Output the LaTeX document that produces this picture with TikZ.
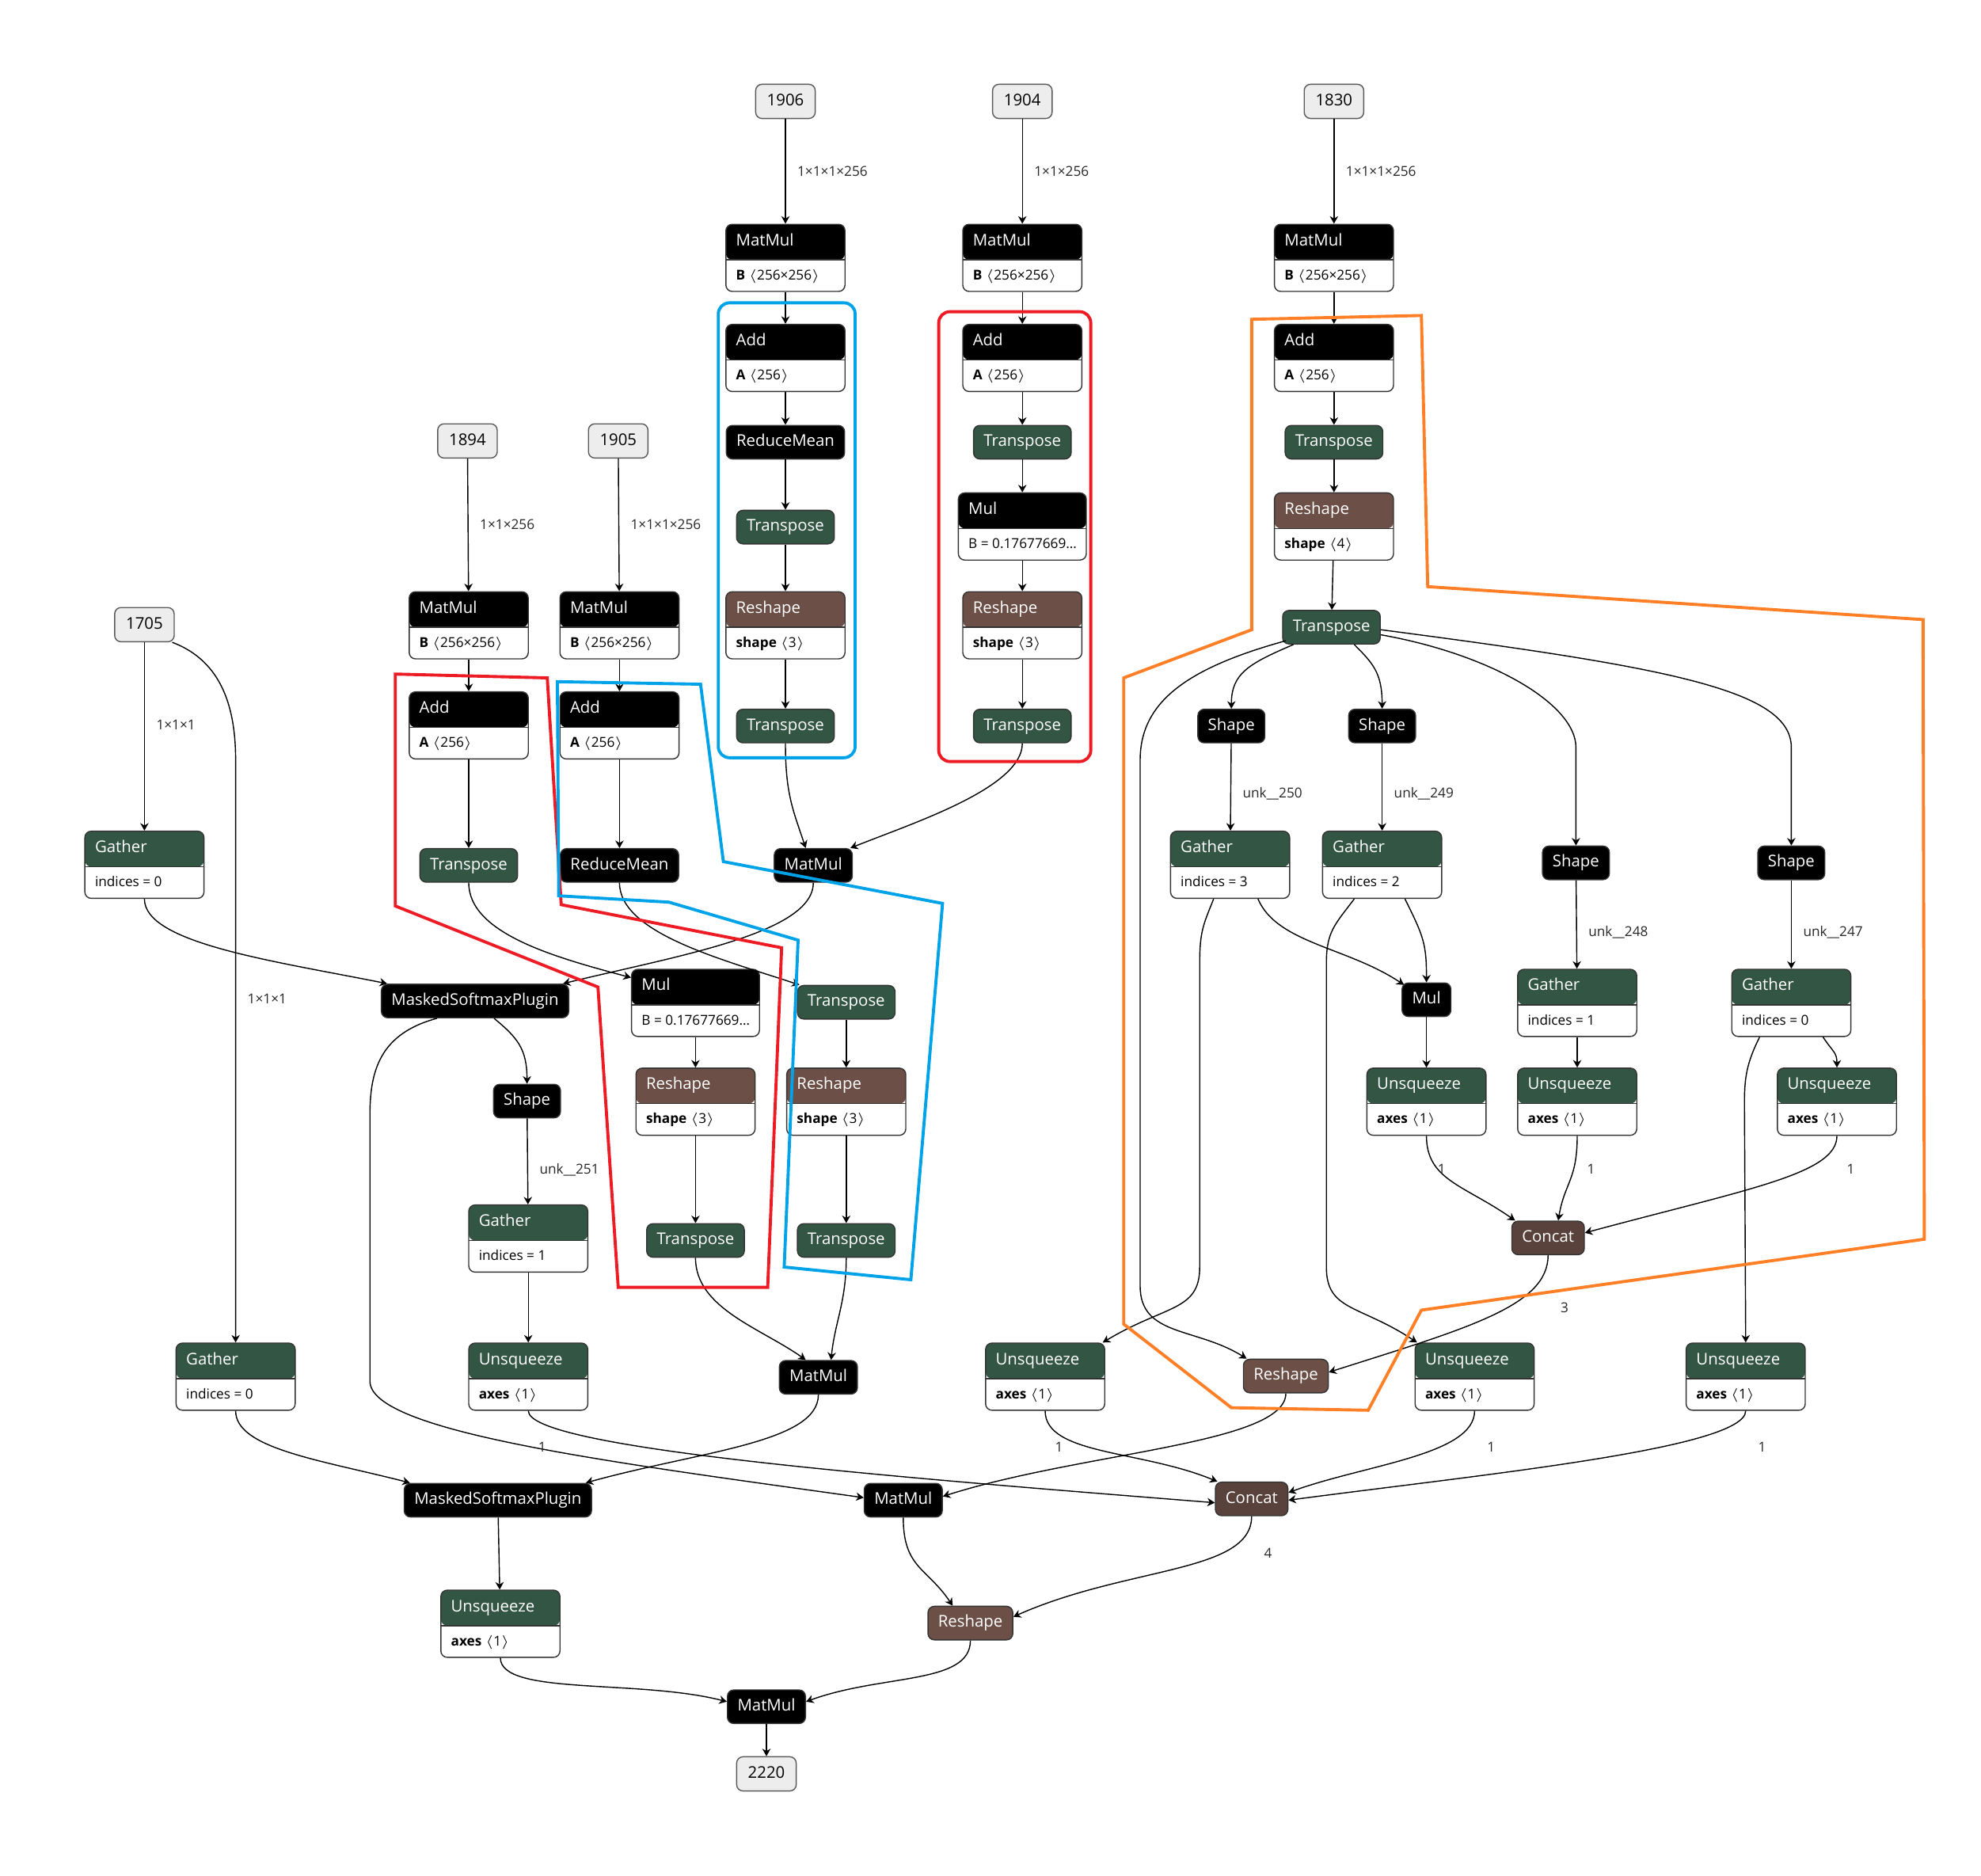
\documentclass[tikz,border=0pt]{standalone}
\usepackage{fontspec}
\setmainfont{Open Sans}
\usetikzlibrary{arrows.meta}

\def\dpx{0.16mm}
\newcommand{\opfont}{\fontsize{5.8}{7}\selectfont}
\newcommand{\lblfont}{\fontsize{4.9}{6}\selectfont}

\definecolor{tfgreen}{RGB}{51,85,68}
\definecolor{shpbrown}{RGB}{108,79,71}
\definecolor{tnsbrown}{RGB}{89,66,59}
\definecolor{hlblue}{RGB}{0,162,232}
\definecolor{hlred}{RGB}{237,28,36}
\definecolor{hlorange}{RGB}{255,127,39}

\tikzset{
  op/.style={draw=black!80, fill=black, text=white, rounded corners=0.8mm,
    minimum height=26.5*\dpx, inner xsep=8*\dpx, inner ysep=0pt,
    text height=4.3pt, text depth=1.3pt, font=\opfont},
  tf/.style={op, fill=tfgreen},
  shp/.style={op, fill=shpbrown},
  tns/.style={op, fill=tnsbrown},
  io/.style={draw=black!65, fill=black!7, rounded corners=0.8mm,
    minimum height=27*\dpx, minimum width=47*\dpx, inner sep=0pt,
    text height=4.3pt, text depth=1.3pt, font=\opfont},
  attrbox/.style={draw=black!80, fill=white, rounded corners=0.8mm,
    minimum height=53*\dpx, inner sep=0pt},
  header/.style={path picture={
    \fill[#1] (path picture bounding box.north west) rectangle ([yshift=-28*\dpx]path picture bounding box.north east);
    \draw[black!80] ([yshift=-28*\dpx]path picture bounding box.north west) -- ([yshift=-28*\dpx]path picture bounding box.north east);}},
  title/.style={text=white, font=\opfont, inner sep=0pt, anchor=west,
    text height=4.3pt, text depth=1.3pt},
  attr/.style={font=\lblfont, inner sep=0pt, anchor=west,
    text height=3.6pt, text depth=1pt},
  lbl/.style={font=\lblfont, text=black!85, inner sep=0pt, anchor=west, xshift=9*\dpx},
  num/.style={font=\lblfont, text=black!85, inner sep=0pt},
  hl/.style={line width=1.1pt},
}

% node with a coloured header and one attribute line
\newcommand{\attrnode}[6]{%
  \node[attrbox, header=#4, minimum width=#3*\dpx] (#1) at (#2) {};
  \node[title] (#1-t) at ([xshift=8*\dpx, yshift=-14*\dpx]#1.north west) {#5};
  \node[attr] (#1-a) at ([xshift=8*\dpx, yshift=12.5*\dpx]#1.south west) {#6};
}

\begin{document}
\begin{tikzpicture}[x=\dpx, y=-\dpx, >={Stealth[length=0.95mm,width=1.05mm,inset=0.3mm]}]
\useasboundingbox (0,0) rectangle (1563.75,1480);

% inputs and output
\node[io] (in1906) at (620,80) {1906};
\node[io] (in1904) at (807,80) {1904};
\node[io] (in1830) at (1053,80) {1830};
\node[io] (in1894) at (369,348) {1894};
\node[io] (in1905) at (488,348) {1905};
\node[io] (in1705) at (114,493) {1705};
\node[io] (out2220) at (605,1400) {2220};

% branch of 1906
\attrnode{mm1}{620,203.5}{94}{black}{MatMul}{\textbf{B} $\langle$256×256$\rangle$}
\attrnode{add1}{620,282.5}{94}{black}{Add}{\textbf{A} $\langle$256$\rangle$}
\node[op] (rm1) at (620,349) {ReduceMean};
\node[tf] (tr1) at (620,416) {Transpose};
\attrnode{rs1}{620,493.5}{94}{shpbrown}{Reshape}{\textbf{shape} $\langle$3$\rangle$}
\node[tf] (tr2) at (620,573) {Transpose};

% branch of 1904
\attrnode{mm2}{807,203.5}{94}{black}{MatMul}{\textbf{B} $\langle$256×256$\rangle$}
\attrnode{add2}{807,282.5}{94}{black}{Add}{\textbf{A} $\langle$256$\rangle$}
\node[tf] (tr3) at (807,349) {Transpose};
\attrnode{mul2}{807,415.5}{101}{black}{Mul}{B = 0.17677669…}
\attrnode{rs2}{807,493.5}{94}{shpbrown}{Reshape}{\textbf{shape} $\langle$3$\rangle$}
\node[tf] (tr4) at (807,573) {Transpose};

% branch of 1830
\attrnode{mm3}{1053,203.5}{94}{black}{MatMul}{\textbf{B} $\langle$256×256$\rangle$}
\attrnode{add3}{1053,282.5}{94}{black}{Add}{\textbf{A} $\langle$256$\rangle$}
\node[tf] (tr5) at (1053,349) {Transpose};
\attrnode{rs3}{1053,415.5}{94}{shpbrown}{Reshape}{\textbf{shape} $\langle$4$\rangle$}
\node[tf] (tr6) at (1051,495) {Transpose};

% branches of 1894 and 1905
\attrnode{mm4}{370,493.5}{94}{black}{MatMul}{\textbf{B} $\langle$256×256$\rangle$}
\attrnode{mm5}{489,493.5}{94}{black}{MatMul}{\textbf{B} $\langle$256×256$\rangle$}
\attrnode{add4}{370,572.5}{94}{black}{Add}{\textbf{A} $\langle$256$\rangle$}
\attrnode{add5}{489,572.5}{94}{black}{Add}{\textbf{A} $\langle$256$\rangle$}
\node[tf] (tr7) at (370,683) {Transpose};
\node[op] (rm2) at (489,683) {ReduceMean};
\node[op] (mmA) at (642,683) {MatMul};

% middle part
\attrnode{gat1}{114,682.5}{94}{tfgreen}{Gather}{indices = 0}
\node[op] (msp1) at (375,790) {MaskedSoftmaxPlugin};
\attrnode{mul1}{549,791.5}{101}{black}{Mul}{B = 0.17677669…}
\node[tf] (tr8) at (668,791) {Transpose};
\node[op] (sh1) at (416,869) {Shape};
\attrnode{rs4}{549,869.5}{94}{shpbrown}{Reshape}{\textbf{shape} $\langle$3$\rangle$}
\attrnode{rs5}{668,869.5}{94}{shpbrown}{Reshape}{\textbf{shape} $\langle$3$\rangle$}
\attrnode{gat2}{417,977.5}{94}{tfgreen}{Gather}{indices = 1}
\node[tf] (tr9) at (549,979) {Transpose};
\node[tf] (tr10) at (668,979) {Transpose};
\attrnode{gat3}{186,1086.5}{94}{tfgreen}{Gather}{indices = 0}
\attrnode{unsq1}{417,1086.5}{94}{tfgreen}{Unsqueeze}{\textbf{axes} $\langle$1$\rangle$}
\node[op] (mmB) at (646,1087) {MatMul};
\node[op] (msp2) at (393,1184) {MaskedSoftmaxPlugin};
\node[op] (mmC) at (713,1184) {MatMul};
\node[tns] (cc1) at (988,1183) {Concat};
\attrnode{unsq2}{395,1281.5}{94}{tfgreen}{Unsqueeze}{\textbf{axes} $\langle$1$\rangle$}
\node[shp] (rs6) at (766,1281) {Reshape};
\node[op] (mmD) at (605,1347) {MatMul};

% shape part on the right
\node[op] (sh2) at (972,573) {Shape};
\node[op] (sh3) at (1091,573) {Shape};
\attrnode{gat4}{971,682.5}{94}{tfgreen}{Gather}{indices = 3}
\attrnode{gat5}{1091,682.5}{94}{tfgreen}{Gather}{indices = 2}
\node[op] (sh4) at (1244,681) {Shape};
\node[op] (sh5) at (1414,681) {Shape};
\node[op] (mul3) at (1126,789) {Mul};
\attrnode{gat6}{1245,791.5}{94}{tfgreen}{Gather}{indices = 1}
\attrnode{gat7}{1414,791.5}{94}{tfgreen}{Gather}{indices = 0}
\attrnode{unsq3}{1126,869.5}{94}{tfgreen}{Unsqueeze}{\textbf{axes} $\langle$1$\rangle$}
\attrnode{unsq4}{1245,869.5}{94}{tfgreen}{Unsqueeze}{\textbf{axes} $\langle$1$\rangle$}
\attrnode{unsq5}{1450,869.5}{94}{tfgreen}{Unsqueeze}{\textbf{axes} $\langle$1$\rangle$}
\node[tns] (cc2) at (1222,977) {Concat};
\attrnode{unsq6}{825,1086.5}{94}{tfgreen}{Unsqueeze}{\textbf{axes} $\langle$1$\rangle$}
\node[shp] (rs7) at (1015,1086) {Reshape};
\attrnode{unsq7}{1164,1086.5}{94}{tfgreen}{Unsqueeze}{\textbf{axes} $\langle$1$\rangle$}
\attrnode{unsq8}{1378,1086.5}{94}{tfgreen}{Unsqueeze}{\textbf{axes} $\langle$1$\rangle$}

% bend points of the long connectors
\coordinate (bend1) at (292,880);
\coordinate (bend2) at (292,1090);
\coordinate (bend3) at (900,600);
\coordinate (bend4) at (900,1015);
\coordinate (bend5) at (947,760);
\coordinate (bend6) at (947,1000);
\coordinate (bend7) at (1047,760);
\coordinate (bend8) at (1047,1000);
\coordinate (bend9) at (1377,870);
\coordinate (bend10) at (186,600);
\coordinate (bend11) at (1244,590);
\coordinate (bend12) at (1414,590);

% straight connectors
\path[->] (in1906) edge node[lbl] {1×1×1×256} (mm1)
          (mm1) edge (add1)
          (add1) edge (rm1)
          (rm1) edge (tr1)
          (tr1) edge (rs1)
          (rs1) edge (tr2)
          (in1904) edge node[lbl] {1×1×256} (mm2)
          (mm2) edge (add2)
          (add2) edge (tr3)
          (tr3) edge (mul2)
          (mul2) edge (rs2)
          (rs2) edge (tr4)
          (in1830) edge node[lbl] {1×1×1×256} (mm3)
          (mm3) edge (add3)
          (add3) edge (tr5)
          (tr5) edge (rs3)
          (rs3) edge (tr6)
          (in1894) edge node[lbl] {1×1×256} (mm4)
          (mm4) edge (add4)
          (add4) edge (tr7)
          (in1905) edge node[lbl] {1×1×1×256} (mm5)
          (mm5) edge (add5)
          (add5) edge (rm2)
          (in1705) edge node[lbl, pos=0.44] {1×1×1} (gat1)
          (mul1) edge (rs4)
          (rs4) edge (tr9)
          (tr8) edge (rs5)
          (rs5) edge (tr10)
          (sh1) edge node[lbl, pos=0.6] {unk\_\_251} (gat2)
          (gat2) edge (unsq1)
          (msp2) edge (unsq2)
          (mmD) edge (out2220)
          (sh2) edge node[lbl, pos=0.58] {unk\_\_250} (gat4)
          (sh3) edge node[lbl, pos=0.58] {unk\_\_249} (gat5)
          (sh4) edge node[lbl, pos=0.59] {unk\_\_248} (gat6)
          (sh5) edge node[lbl, pos=0.59] {unk\_\_247} (gat7)
          (mul3) edge (unsq3)
          (gat6) edge (unsq4);

% curved connectors
\draw[->] (tr2.south) .. controls +(0,40) and +(-10,-30) .. ([xshift=-6*\dpx]mmA.north);
\draw[->] (tr4.south) .. controls +(0,35) and +(50,-20) .. ([xshift=-2*\dpx]mmA.north east);
\draw[->] (gat1.south) .. controls +(0,35) and +(-90,-18) .. ([xshift=5*\dpx]msp1.north west);
\draw[->] (mmA.south) .. controls +(0,40) and +(90,-22) .. ([xshift=-5*\dpx]msp1.north east);
\draw[->] (tr7.south) .. controls +(0,40) and +(-60,-16) .. ([yshift=-7*\dpx]mul1.north west);
\draw[->] (rm2.south) .. controls +(0,40) and +(-60,-20) .. ([xshift=2*\dpx]tr8.north west);
\draw[->] ([xshift=15*\dpx]msp1.south) .. controls +(18,15) and +(0,-28) .. (sh1.north);
\draw[->] ([xshift=-30*\dpx]msp1.south) .. controls +(-45,12) and +(0,-35) .. (bend1)
          -- (bend2) .. controls +(0,40) and +(-200,-28) .. ([yshift=2*\dpx]mmC.west);
\draw[->] ([xshift=-2*\dpx]in1705.south east) .. controls +(40,15) and +(0,-40) .. (bend10)
          -- node[lbl, pos=0.41] {1×1×1} (gat3.north);
\draw[->] (tr9.south) .. controls +(0,40) and +(-35,-25) .. ([xshift=-10*\dpx]mmB.north);
\draw[->] (tr10.south) .. controls +(0,35) and +(3,-30) .. ([xshift=10*\dpx]mmB.north);
\draw[->] (mmB.south) .. controls +(0,38) and +(90,-25) .. ([xshift=-5*\dpx]msp2.north east);
\draw[->] (gat3.south) .. controls +(0,30) and +(-70,-18) .. ([xshift=5*\dpx]msp2.north west);
\draw[->] (unsq1.south) .. controls +(0,30) and +(-250,-20) .. ([yshift=-3*\dpx]cc1.west);
\draw[->] (unsq2.south) .. controls +(0,30) and +(-70,-18) .. ([yshift=4*\dpx]mmD.west);
\draw[->] (mmC.south) .. controls +(0,40) and +(-20,-30) .. ([xshift=-14*\dpx]rs6.north);
\draw[->] (cc1.south) .. controls +(0,45) and +(90,-40) .. ([yshift=5*\dpx]rs6.east);
\draw[->] (rs6.south) .. controls +(0,35) and +(60,-22) .. ([yshift=4*\dpx]mmD.east);
\draw[->] (rs7.south) .. controls +(0,40) and +(110,-35) .. ([yshift=3*\dpx]mmC.east);
\draw[->] (unsq6.south) .. controls +(0,35) and +(-60,-25) .. ([xshift=2*\dpx]cc1.north west);
\draw[->] (unsq7.south) .. controls +(0,35) and +(60,-22) .. ([yshift=5*\dpx]cc1.east);
\draw[->] (unsq8.south) .. controls +(0,30) and +(150,-20) .. ([yshift=-1*\dpx]cc1.east);
\draw[->] ([xshift=-30*\dpx]tr6.south) .. controls +(-35,15) and +(0,-28) .. (sh2.north);
\draw[->] ([xshift=18*\dpx]tr6.south) .. controls +(15,15) and +(0,-28) .. (sh3.north);
\draw[->] ([yshift=-6*\dpx]tr6.east) .. controls +(85,15) and +(0,-35) .. (bend11) -- (sh4.north);
\draw[->] ([yshift=-2*\dpx]tr6.east) .. controls +(230,30) and +(0,-45) .. (bend12) -- (sh5.north);
\draw[->] ([xshift=3*\dpx, yshift=3*\dpx]tr6.south west) .. controls +(-80,22) and +(0,-45) .. (bend3)
          -- (bend4) .. controls +(0,40) and +(-40,-25) .. ([xshift=3*\dpx]rs7.north west);
\draw[->] ([xshift=22*\dpx]gat4.south) .. controls +(15,35) and +(-45,-30) .. ([xshift=2*\dpx, yshift=-2*\dpx]mul3.north west);
\draw[->] ([xshift=-13*\dpx]gat4.south) .. controls +(-8,20) and +(0,-25) .. (bend5)
          -- (bend6) .. controls +(0,35) and +(50,-30) .. ([xshift=-2*\dpx]unsq6.north east);
\draw[->] ([xshift=18*\dpx]gat5.south) .. controls +(15,30) and +(0,-30) .. (mul3.north);
\draw[->] ([xshift=-22*\dpx]gat5.south) .. controls +(-15,20) and +(0,-25) .. (bend7)
          -- (bend8) .. controls +(0,35) and +(-45,-30) .. ([xshift=2*\dpx]unsq7.north west);
\draw[->] (unsq3.south) .. controls +(0,35) and +(-40,-28) .. ([xshift=3*\dpx]cc2.north west);
\draw[->] (unsq4.south) .. controls +(0,35) and +(5,-30) .. ([xshift=8*\dpx]cc2.north);
\draw[->] (unsq5.south) .. controls +(0,30) and +(130,-35) .. ([yshift=4*\dpx]cc2.east);
\draw[->] ([xshift=-25*\dpx]gat7.south) .. controls +(-10,20) and +(0,-20) .. (bend9) -- (unsq8.north);
\draw[->] ([xshift=25*\dpx]gat7.south) .. controls +(8,12) and +(0,-12) .. (unsq5.north);
\draw[->] (cc2.south) .. controls +(0,40) and +(110,-35) .. ([yshift=3*\dpx]rs7.east);

% labels of the curved connectors
\node[num] (l1) at (428,1142) {1};
\node[num] (l2) at (836,1142) {1};
\node[num] (l3) at (1177,1142) {1};
\node[num] (l4) at (1391,1142) {1};
\node[num] (l5) at (1001,1226) {4};
\node[num] (l6) at (1235,1032) {3};
\node[num] (l7) at (1138,923) {1};
\node[num] (l8) at (1256,923) {1};
\node[num] (l9) at (1461,923) {1};

% highlights
\draw[hl, hlblue, rounded corners=1.4mm] (567,239) rectangle (675,598);
\draw[hl, hlred, rounded corners=1.4mm] (741,246) rectangle (861,601);
\draw[hl, hlred] (312,532) -- (432,535) -- (443,714) -- (617,748) -- (606,1016)
  -- (488,1016) -- (472,779) -- (312,715) -- cycle;
\draw[hl, hlblue] (440,538) -- (553,540) -- (571,680) -- (744,713) -- (719,1010)
  -- (619,1000) -- (630,742) -- (528,712) -- (441,707) -- cycle;
\draw[hl, hlorange] (988,252) -- (1122,249) -- (1127,463) -- (1518,489) -- (1519,978)
  -- (1122,1034) -- (1080,1113) -- (972,1111) -- (887,1045) -- (887,535) -- (988,497) -- cycle;
\end{tikzpicture}
\end{document}
